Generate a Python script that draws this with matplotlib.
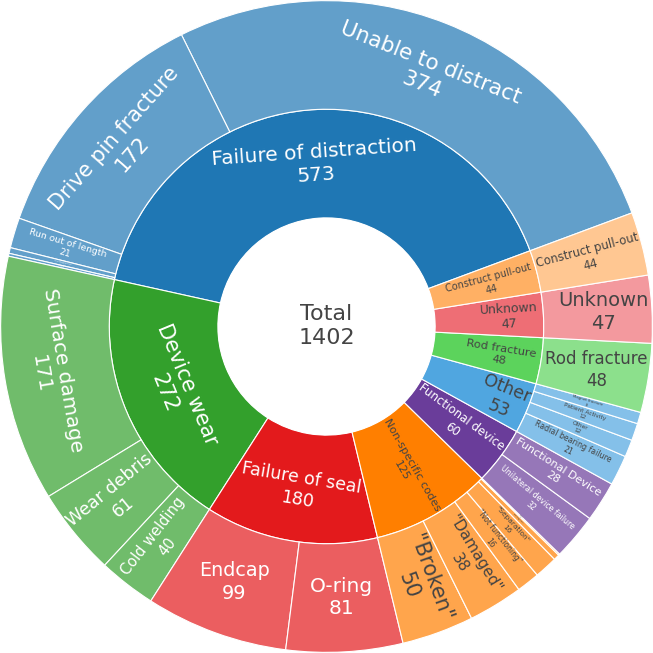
import numpy as np
import matplotlib
matplotlib.use("Agg")
import matplotlib.pyplot as plt
from matplotlib.patches import Wedge, Circle

# ---- data -------------------------------------------------------------
total_label = "Total"
total_value = 1402

inner_labels = ["Failure of distraction", "Device wear", "Failure of seal",
                "Non-specific codes", "Functional device", "Other",
                "Rod fracture", "Unknown", "Construct pull-out"]
inner_values = [573, 272, 180, 125, 60, 53, 48, 47, 44]

outer_parents = (["Failure of distraction"] * 5 + ["Device wear"] * 3
                 + ["Failure of seal"] * 2 + ["Non-specific codes"] * 6
                 + ["Functional device"] * 2 + ["Other"] * 4
                 + ["Rod fracture", "Unknown", "Construct pull-out"])
outer_labels = ["Unable to distract", "Drive pin fracture", "Run out of length",
                "Rod deformation", "Loosening",
                "Surface damage", "Wear debris", "Cold welding",
                "Endcap", "O-ring",
                '"Broken"', '"Damaged"', '"Not functioning"', '"Separation"',
                '"Malfunction"', '"Bent"',
                "Unilateral device failure", "Functional Device",
                "Radial bearing failure", "Other", "Patient Activity", "Magnet fracture",
                "Rod fracture", "Unknown", "Construct pull-out"]
outer_values = [374, 172, 21, 4, 2,
                171, 61, 40,
                99, 81,
                50, 38, 16, 16, 4, 1,
                32, 28,
                21, 12, 12, 8,
                48, 47, 44]

# ---- style ------------------------------------------------------------
colors = {
    "Failure of distraction": "#1f77b4",
    "Device wear": "#33a02c",
    "Failure of seal": "#e31a1c",
    "Non-specific codes": "#ff7f00",
    "Functional device": "#6a3d9a",
    "Other": "#50a6e0",
    "Rod fracture": "#5cd35c",
    "Unknown": "#ee6e75",
    "Construct pull-out": "#ffb064",
}
DARK = "#444444"
START = 20.4          # degrees, counterclockwise
R0, R1, R2 = 1 / 3, 2 / 3, 1.0

# (orientation, fontsize, colour, radius) per label; radius None = ring middle
inner_text = {
    "Failure of distraction": ("tan", 14.5, "white", None),
    "Device wear": ("tan", 15, "white", None),
    "Failure of seal": ("tan", 12.5, "white", 0.505),
    "Non-specific codes": ("rad", 8, DARK, None),
    "Functional device": ("rad", 8.5, "white", None),
    "Other": ("rad", 12.5, DARK, 0.585),
    "Rod fracture": ("rad", 8.2, DARK, 0.54),
    "Unknown": ("rad", 9, DARK, 0.56),
    "Construct pull-out": ("rad", 7, DARK, 0.52),
}
outer_text = {
    "Unable to distract": ("tan", 15.5, "white", None),
    "Drive pin fracture": ("tan", 15, "white", None),
    "Run out of length": ("rad", 6.7, "white", None),
    "Rod deformation": ("rad", 1.5, "white", None),
    "Loosening": ("rad", 0.8, "white", None),
    "Surface damage": ("tan", 14.5, "white", 0.855),
    "Wear debris": ("rad", 12.5, "white", None),
    "Cold welding": ("rad", 10.5, "white", None),
    "Endcap": ("hor", 13.8, "white", None),
    "O-ring": ("hor", 14.5, "white", None),
    '"Broken"': ("rad", 15, DARK, None),
    '"Damaged"': ("rad", 11, DARK, None),
    '"Not functioning"': ("rad", 5.5, DARK, None),
    '"Separation"': ("rad", 5.3, DARK, None),
    '"Malfunction"': ("rad", 1.5, DARK, None),
    '"Bent"': ("rad", 0.5, DARK, None),
    "Unilateral device failure": ("rad", 5.6, "white", None),
    "Functional Device": ("rad", 8, "white", None),
    "Radial bearing failure": ("rad", 5.6, DARK, None),
    "Other": ("rad", 4.2, DARK, None),
    "Patient Activity": ("rad", 4.2, DARK, None),
    "Magnet fracture": ("rad", 2.8, DARK, None),
    "Rod fracture": ("hor", 12, DARK, 0.84),
    "Unknown": ("hor", 14, DARK, 0.85),
    "Construct pull-out": ("rad", 8.4, DARK, None),
}


def norm_rot(a):
    a = (a + 180) % 360 - 180
    if a > 90:
        a -= 180
    elif a <= -90:
        a += 180
    return a


def put_label(ax, text, theta, r, mode, size, color):
    if mode == "rad":
        rot = norm_rot(theta)
    elif mode == "tan":
        rot = norm_rot(theta - 90)
    else:
        rot = 0
    t = np.radians(theta)
    ax.text(r * np.cos(t), r * np.sin(t), text, rotation=rot,
            rotation_mode="anchor", ha="center", va="center",
            multialignment="center", fontsize=size, color=color,
            linespacing=1.25)


fig = plt.figure(figsize=(6.53, 6.53), dpi=100)
ax = fig.add_axes([0, 0, 1, 1])
ax.set_xlim(-1.002, 1.002)
ax.set_ylim(-1.002, 1.002)
ax.set_aspect("equal")
ax.axis("off")

deg_per = 360.0 / total_value

# inner ring
a = START
spans = {}
for lab, val in zip(inner_labels, inner_values):
    a1 = a + val * deg_per
    ax.add_patch(Wedge((0, 0), R1, a, a1, width=R1 - R0,
                       facecolor=colors[lab], edgecolor="white", lw=0.8))
    mode, fs, fc, rr = inner_text[lab]
    put_label(ax, f"{lab}\n{val}", (a + a1) / 2, rr or (R0 + R1) / 2, mode, fs, fc)
    spans[lab] = a
    a = a1

# outer ring (leaves drawn lighter, like plotly's leaf opacity)
pos = dict(spans)
for par, lab, val in zip(outer_parents, outer_labels, outer_values):
    a0 = pos[par]
    a1 = a0 + val * deg_per
    ax.add_patch(Wedge((0, 0), R2, a0, a1, width=R2 - R1,
                       facecolor=colors[par], alpha=0.7, edgecolor="none"))
    ax.add_patch(Wedge((0, 0), R2, a0, a1, width=R2 - R1,
                       facecolor="none", edgecolor="white", lw=0.8))
    mode, fs, fc, rr = outer_text[lab]
    put_label(ax, f"{lab}\n{val}", (a0 + a1) / 2, rr or (R1 + R2) / 2, mode, fs, fc)
    pos[par] = a1

ax.add_patch(Circle((0, 0), R0, facecolor="white", edgecolor="none"))
ax.text(0, 0, f"{total_label}\n{total_value}", ha="center", va="center",
        multialignment="center", fontsize=16, color=DARK, linespacing=1.25)

fig.savefig("out.png", dpi=100)
